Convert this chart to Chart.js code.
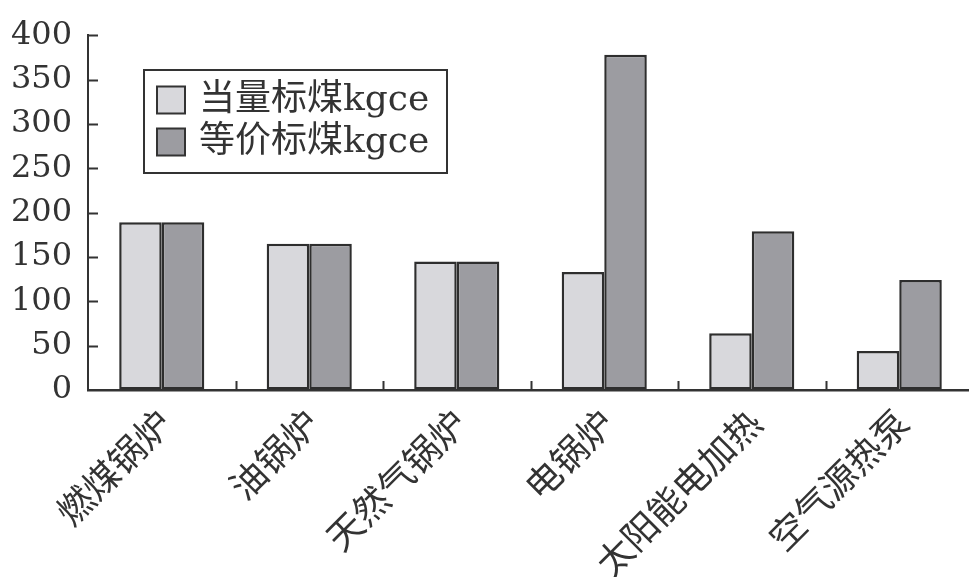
<!DOCTYPE html>
<html>
<head>
<meta charset="utf-8">
<script src="https://cdn.jsdelivr.net/npm/chart.js@4"></script>
<style>
  html, body { margin: 0; padding: 0; background: #fff; overflow: hidden; }
  #wrap { width: 969px; height: 577px; overflow: hidden; }
  canvas { display: block; }
</style>
</head>
<body>
<div id="wrap"><canvas id="c" width="974" height="577"></canvas></div>
<script>
// Heating methods and their standard-coal consumption
const categories = ['燃煤锅炉', '油锅炉', '天然气锅炉', '电锅炉', '太阳能电加热', '空气源热泵'];
const equivalentCoal = [189, 165, 145, 133, 64, 44];   // 当量标煤
const equalValueCoal = [189, 165, 145, 378, 179, 124]; // 等价标煤
const seriesNames = ['当量标煤kgce', '等价标煤kgce'];
const yTicks = [0, 50, 100, 150, 200, 250, 300, 350, 400];

const INK = '#333333';
const FONT_FAMILY = '"DejaVu Serif", "Noto Sans CJK SC", serif';

// Short inward tick marks on both axes
const innerTicks = {
  id: 'innerTicks',
  afterDraw(chart) {
    const { ctx } = chart;
    const x = chart.scales.x, y = chart.scales.y;
    ctx.save();
    ctx.strokeStyle = INK;
    ctx.lineWidth = 2;
    ctx.beginPath();
    yTicks.forEach(v => {
      if (v === 0) return;
      const py = Math.round(y.getPixelForValue(v)) + 0.5;
      ctx.moveTo(x.left, py);
      ctx.lineTo(x.left + 10, py);
    });
    for (let i = 0; i < categories.length - 1; i++) {
      const px = Math.round((x.getPixelForValue(i) + x.getPixelForValue(i + 1)) / 2) + 0.5;
      ctx.moveTo(px, y.bottom);
      ctx.lineTo(px, y.bottom - 9);
    }
    ctx.stroke();
    ctx.restore();
  }
};

// Boxed legend inside the plot area
const boxLegend = {
  id: 'boxLegend',
  afterDraw(chart) {
    const { ctx } = chart;
    const left = 144, top = 70, w = 303, h = 103;
    ctx.save();
    ctx.lineWidth = 2;
    ctx.strokeStyle = INK;
    ctx.fillStyle = '#fff';
    ctx.fillRect(left, top, w, h);
    ctx.strokeRect(left, top, w, h);
    const rows = [100, 142];
    chart.data.datasets.forEach((ds, i) => {
      const cy = rows[i];
      ctx.fillStyle = ds.backgroundColor;
      ctx.fillRect(157, cy - 13.5, 28, 27);
      ctx.strokeStyle = INK;
      ctx.lineWidth = 2;
      ctx.strokeRect(157, cy - 13.5, 28, 27);
      ctx.fillStyle = INK;
      ctx.font = '36px ' + FONT_FAMILY;
      ctx.textBaseline = 'middle';
      ctx.textAlign = 'left';
      ctx.fillText(ds.label, 199, cy + 1);
    });
    ctx.restore();
  }
};

new Chart(document.getElementById('c'), {
  type: 'bar',
  data: {
    labels: categories,
    datasets: [
      {
        label: seriesNames[0],
        data: equivalentCoal,
        backgroundColor: '#d8d8dc',
        borderColor: '#2e2e2e',
        borderWidth: 2.5,
        borderSkipped: false
      },
      {
        label: seriesNames[1],
        data: equalValueCoal,
        backgroundColor: '#9c9ca1',
        borderColor: '#2e2e2e',
        borderWidth: 2.5,
        borderSkipped: false
      }
    ]
  },
  plugins: [innerTicks, boxLegend],
  options: {
    responsive: false,
    animation: false,
    devicePixelRatio: 1,
    categoryPercentage: 0.577,
    barPercentage: 1,
    layout: { padding: { top: 35, right: 1, left: 0, bottom: 0 } },
    plugins: {
      legend: { display: false },
      tooltip: { enabled: false }
    },
    scales: {
      x: {
        grid: { display: true, drawOnChartArea: false, drawTicks: false, color: 'rgba(0,0,0,0)' },
        border: { display: true, color: INK, width: 2.5 },
        ticks: {
          color: INK,
          font: { family: FONT_FAMILY, size: 36 },
          minRotation: 45,
          maxRotation: 45,
          autoSkip: false,
          padding: 14,
          labelOffset: 6
        },
        afterFit(scale) { scale.height = 187; }
      },
      y: {
        min: 0,
        max: 400,
        afterBuildTicks(scale) { scale.ticks = yTicks.map(v => ({ value: v })); },
        grid: { display: true, drawOnChartArea: false, drawTicks: false, color: 'rgba(0,0,0,0)' },
        border: { display: true, color: INK, width: 2 },
        ticks: {
          color: INK,
          font: { family: FONT_FAMILY, size: 32 },
          autoSkip: false,
          padding: 16
        },
        afterFit(scale) { scale.width = 88; }
      }
    }
  }
});
</script>
</body>
</html>
